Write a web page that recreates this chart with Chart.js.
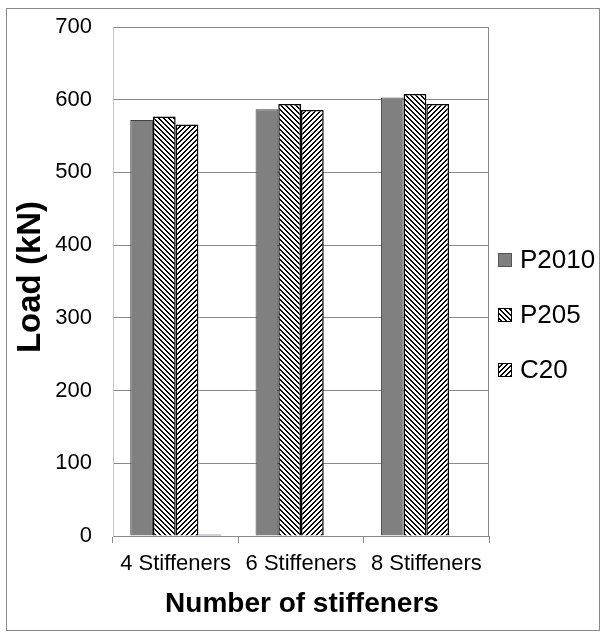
<!DOCTYPE html>
<html><head><meta charset="utf-8">
<script src="https://cdn.jsdelivr.net/npm/chart.js@4/dist/chart.umd.min.js"></script>
<style>html,body{margin:0;padding:0;background:#fff}canvas{display:block}</style>
</head><body>
<canvas id="c" width="606" height="637"></canvas>
<script>
// Ultimate load per configuration
const categories = ['4 Stiffeners', '6 Stiffeners', '8 Stiffeners'];
const seriesNames = ['P2010', 'P205', 'C20'];
const p2010 = [572, 587, 603];
const p205 = [577, 594, 608];
const c20 = [566, 586, 594];
const residual = [2, null, null]; // extra series kept out of the legend
const yMin = 0, yMax = 700, yStep = 100;
const xTitle = 'Number of stiffeners';
const yTitle = 'Load (kN)';

const FONT = '"Liberation Sans", Arial, sans-serif';

// Black-on-white diagonal hatch tile; dir 1 = "\\", dir -1 = "/"
function hatch(dir, period, thick) {
  const t = document.createElement('canvas');
  t.width = period; t.height = period;
  const g = t.getContext('2d');
  const img = g.createImageData(period, period);
  for (let y = 0; y < period; y++) {
    for (let x = 0; x < period; x++) {
      const k = dir > 0 ? x - y : x + y;
      const on = (((k % period) + period) % period) < thick;
      const v = on ? 0 : 255;
      const i = (y * period + x) * 4;
      img.data[i] = v; img.data[i + 1] = v; img.data[i + 2] = v; img.data[i + 3] = 255;
    }
  }
  g.putImageData(img, 0, 0);
  return document.getElementById('c').getContext('2d').createPattern(t, 'repeat');
}

const fills = ['#808080', hatch(1, 5, 2), hatch(-1, 5, 2)];

const frame = {
  id: 'frame',
  beforeDraw(chart) {
    const ctx = chart.ctx;
    ctx.save();
    ctx.fillStyle = '#fff';
    ctx.fillRect(0, 0, chart.width, chart.height);
    ctx.strokeStyle = '#8a8a8a';
    ctx.lineWidth = 1;
    ctx.strokeRect(6.5, 8.5, 593, 622);
    ctx.restore();
  },
  beforeDatasetsDraw(chart) {
    const a = chart.chartArea, ctx = chart.ctx;
    ctx.save();
    ctx.strokeStyle = '#8a8a8a';
    ctx.lineWidth = 1;
    ctx.beginPath();
    ctx.moveTo(Math.round(a.right) - 0.5, a.top);
    ctx.lineTo(Math.round(a.right) - 0.5, a.bottom);
    ctx.stroke();
    ctx.restore();
  },
  afterDraw(chart) {
    const ctx = chart.ctx;
    ctx.save();
    ctx.fillStyle = '#000';
    ctx.textAlign = 'center';
    ctx.textBaseline = 'middle';
    ctx.font = 'bold 28px ' + FONT;
    ctx.fillText(xTitle, 302, 604);
    ctx.font = 'bold 33px ' + FONT;
    ctx.translate(31, 277);
    ctx.rotate(-Math.PI / 2);
    ctx.fillText(yTitle, 0, 0);
    ctx.restore();

    // legend
    ctx.save();
    const ys = [260, 315, 370];
    ctx.font = '26px ' + FONT;
    ctx.textBaseline = 'middle';
    ctx.textAlign = 'left';
    seriesNames.forEach((name, i) => {
      const ds = chart.data.datasets[i];
      ctx.fillStyle = ds.backgroundColor;
      ctx.fillRect(498, ys[i] - 7, 14, 14);
      ctx.strokeStyle = i === 0 ? '#555' : '#000';
      ctx.lineWidth = 1;
      ctx.strokeRect(498.5, ys[i] - 6.5, 13, 13);
      ctx.fillStyle = '#000';
      ctx.fillText(name, 520, ys[i] + 1);
    });
    ctx.restore();
  }
};

new Chart(document.getElementById('c'), {
  type: 'bar',
  data: {
    labels: categories,
    datasets: [
      { label: seriesNames[0], data: p2010, backgroundColor: fills[0], borderColor: '#404040', borderWidth: 1 },
      { label: seriesNames[1], data: p205, backgroundColor: fills[1], borderColor: '#000', borderWidth: 1.5 },
      { label: seriesNames[2], data: c20, backgroundColor: fills[2], borderColor: '#000', borderWidth: 1.5 },
      { label: '', data: residual, backgroundColor: '#a49ccc', borderWidth: 0 }
    ]
  },
  plugins: [frame],
  options: {
    responsive: false,
    devicePixelRatio: 1,
    animation: false,
    layout: { autoPadding: false, padding: { left: 0, top: 27, right: 117, bottom: 0 } },
    datasets: { bar: { barPercentage: 1, categoryPercentage: 0.725 } },
    plugins: { legend: { display: false }, tooltip: { enabled: false }, title: { display: false } },
    scales: {
      x: {
        afterFit(s) { s.height = 101; },
        grid: { drawOnChartArea: false, drawTicks: true, tickLength: 7, color: '#8a8a8a' },
        border: { color: '#8a8a8a' },
        ticks: { color: '#000', font: { family: FONT, size: 22 }, padding: 8, maxRotation: 0 }
      },
      y: {
        min: yMin, max: yMax,
        afterFit(s) { s.width = 113; s.paddingTop = 0; s.paddingBottom = 0; },
        grid: { drawTicks: false, color: '#8a8a8a' },
        border: { color: '#c4c4c4' },
        ticks: { stepSize: yStep, color: '#000', font: { family: FONT, size: 22 }, padding: 21 }
      }
    }
  }
});
</script>
</body></html>
